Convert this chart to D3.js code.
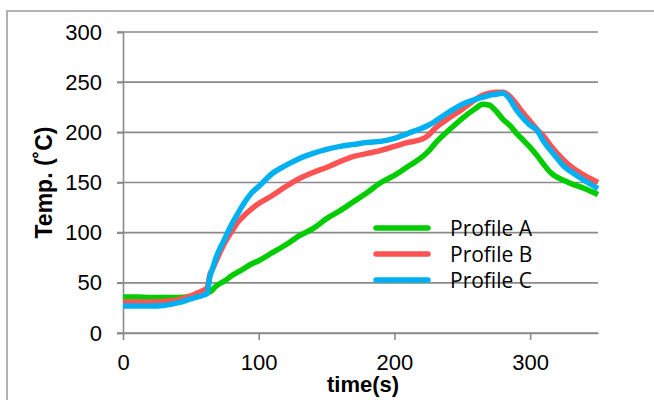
<!DOCTYPE html>
<html>
<head>
<meta charset="utf-8">
<script src="https://cdn.jsdelivr.net/npm/d3@7"></script>
<style>
  body { margin: 0; background: #fff; }
  svg { display: block; }
</style>
</head>
<body>
<svg id="chart"></svg>
<script>
// time (s) samples shared by the three profiles
const times = [0, 10, 20, 30, 40, 50, 55, 60, 62, 64, 66, 68, 70, 75, 80, 85, 90, 95,
  100, 110, 120, 130, 140, 150, 160, 170, 180, 190, 200, 210, 220, 225, 230, 240, 250,
  260, 265, 270, 275, 280, 285, 290, 295, 300, 305, 310, 315, 320, 325, 330, 340, 350];

const profileA = [36, 36, 35.5, 35.5, 35.5, 36.5, 37.5, 39, 40, 41, 43, 46, 48, 52, 57, 61, 65, 69,
  72, 80, 88, 97, 104, 114, 122, 131, 140, 150, 157, 166, 175, 181, 189, 202, 214,
  224, 228, 227, 221, 213, 207, 199, 192, 185, 177, 168, 160, 155, 152, 149, 144, 138];

const profileB = [31, 31, 31, 31.5, 33, 37, 40, 43, 45, 58, 64, 70, 76, 90, 101, 111, 118, 124,
  129, 137, 146, 154, 160, 165, 171, 176, 179, 182, 186, 190, 193, 197, 204, 214, 223,
  233, 237, 239, 240, 240, 236, 228, 219, 211, 203, 196, 187, 179, 172, 166, 157, 150];

const profileC = [27, 27, 27, 27.5, 30, 34, 36, 38, 39.5, 56, 64, 73, 80, 94, 108, 120, 131, 140,
  146, 159, 167, 174, 179, 183, 186, 188, 190, 191, 194, 199, 204, 207, 211, 220, 228,
  233, 235, 237, 238, 239, 233, 222, 214, 207, 202, 191, 182, 174, 166, 161, 152, 144];

const seriesNames = ["Profile A", "Profile B", "Profile C"];
const seriesColors = ["#00cc00", "#ff5353", "#00b0f0"];
const xTicks = [0, 100, 200, 300];
const yTicks = [0, 50, 100, 150, 200, 250, 300];

const width = 654;
const height = 400;

const svg = d3.select("#chart")
    .attr("width", width)
    .attr("height", height);

// outer chart frame
svg.append("rect")
    .attr("x", 7).attr("y", 11)
    .attr("width", 700).attr("height", 500)
    .attr("fill", "#fff")
    .attr("stroke", "#9a9a9a")
    .attr("stroke-width", 1.5);

const x = d3.scaleLinear().domain([0, 350]).range([123, 598]);
const y = d3.scaleLinear().domain([0, 300]).range([333, 32]);

// gridlines
svg.append("g")
    .selectAll("line")
    .data(yTicks)
    .join("line")
    .attr("x1", x(0) - 6)
    .attr("x2", x(350))
    .attr("y1", d => y(d))
    .attr("y2", d => y(d))
    .attr("stroke", "#8a8a8a")
    .attr("stroke-width", 1.6);

const yAxis = svg.append("g")
    .attr("transform", `translate(${x(0)},0)`)
    .call(d3.axisLeft(y).tickValues(yTicks).tickSize(6).tickPadding(15));

const xAxis = svg.append("g")
    .attr("transform", `translate(0,${y(0)})`)
    .call(d3.axisBottom(x).tickValues(xTicks).tickSize(7).tickPadding(14).tickSizeOuter(0));

[yAxis, xAxis].forEach(g => {
    g.select(".domain").attr("stroke", "#8a8a8a").attr("stroke-width", 1.6);
    g.selectAll(".tick line").attr("stroke", "#8a8a8a").attr("stroke-width", 1.6);
    g.selectAll(".tick text")
        .attr("fill", "#000")
        .style("font-family", "'Liberation Sans', Arial, sans-serif")
        .style("font-size", "22px");
});

// axis titles
svg.append("text")
    .attr("transform", "translate(52,182.5) rotate(-90)")
    .attr("text-anchor", "middle")
    .style("font-family", "'Liberation Sans', Arial, sans-serif")
    .style("font-size", "23px")
    .style("font-weight", "bold")
    .text("Temp. (˚C)");

svg.append("text")
    .attr("x", 363)
    .attr("y", 392)
    .attr("text-anchor", "middle")
    .style("font-family", "'Liberation Sans', Arial, sans-serif")
    .style("font-size", "22px")
    .style("font-weight", "bold")
    .text("time(s)");

// curves
const series = [profileA, profileB, profileC];
const line = d3.line()
    .x(d => x(d[0]))
    .y(d => y(d[1]))
    .curve(d3.curveMonotoneX);

svg.append("g")
    .selectAll("path")
    .data(series)
    .join("path")
    .attr("d", vals => line(times.map((t, i) => [t, vals[i]])))
    .attr("fill", "none")
    .attr("stroke", (d, i) => seriesColors[i])
    .attr("stroke-width", 5.5)
    .attr("stroke-linejoin", "round");

// legend
const legend = svg.append("g")
    .selectAll("g")
    .data(seriesNames)
    .join("g")
    .attr("transform", (d, i) => `translate(0,${228 + i * 26})`);

legend.append("line")
    .attr("x1", 376).attr("x2", 428)
    .attr("stroke", (d, i) => seriesColors[i])
    .attr("stroke-width", 5.5)
    .attr("stroke-linecap", "round");

legend.append("text")
    .attr("x", 450)
    .attr("y", 7.7)
    .style("font-family", "'Open Sans', sans-serif")
    .style("font-size", "21px")
    .attr("fill", "#000")
    .text(d => d);
</script>
</body>
</html>
